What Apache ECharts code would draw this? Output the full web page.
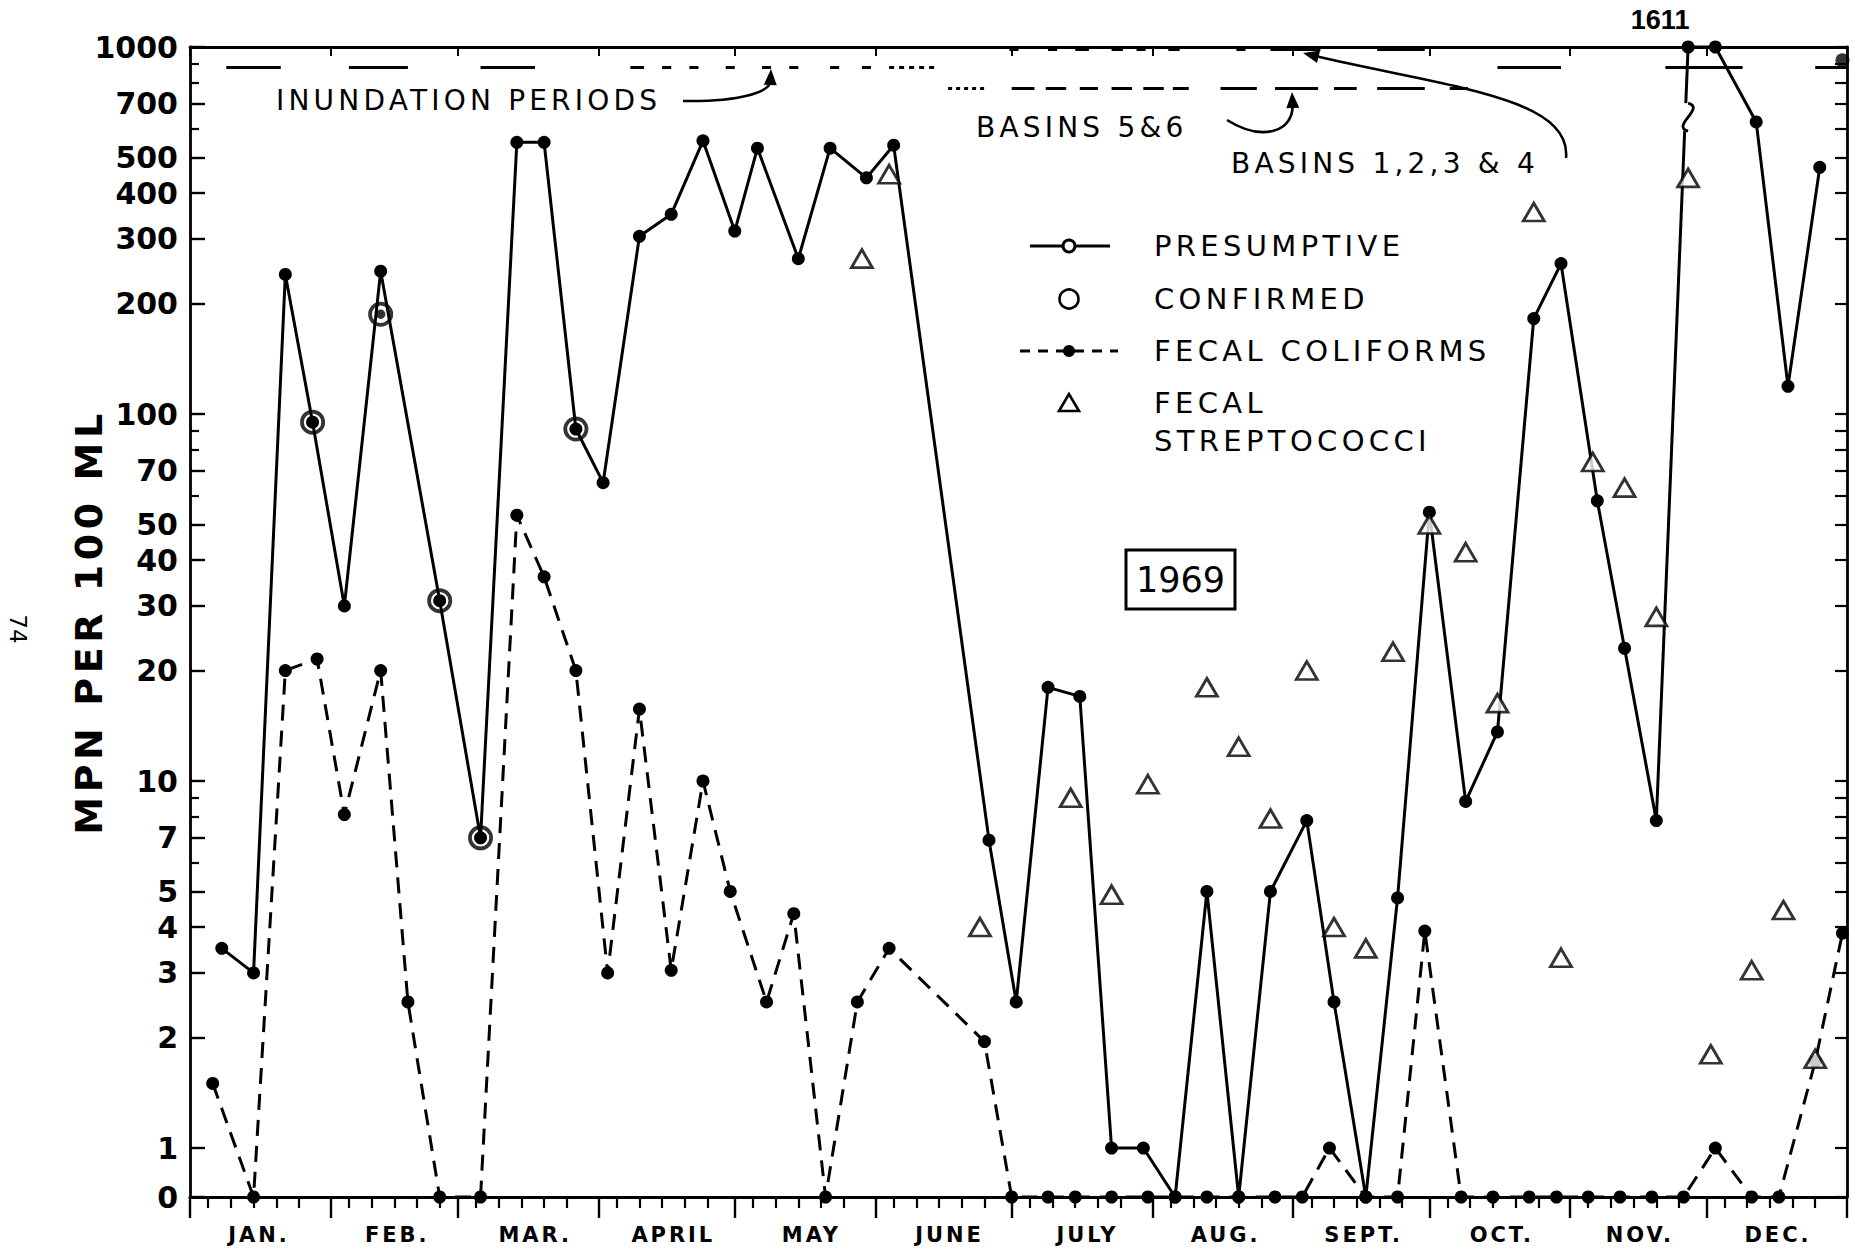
<!DOCTYPE html>
<html><head><meta charset="utf-8"><title>MPN per 100 ml, 1969</title>
<script src="https://cdn.jsdelivr.net/npm/echarts@6.0.0/dist/echarts.min.js"></script>
<style>html,body{margin:0;padding:0;background:#fff;}#chart{width:1862px;height:1251px;}</style>
</head><body><div id="chart"></div>
<script>
// ---------------- DATA ----------------
const MONTHS = ['JAN.','FEB.','MAR.','APRIL','MAY','JUNE','JULY','AUG.','SEPT.','OCT.','NOV.','DEC.'];
const MONTH_START_DAYS = [0,31,59,90,120,151,181,212,243,273,304,334,365];
const Y_LABEL_VALUES = [0,1,2,3,4,5,7,10,20,30,40,50,70,100,200,300,400,500,700,1000];
const Y_MINOR_VALUES = [6,8,9,60,80,90,600,800,900];

// day of year (Jan 1 = 0) and MPN per 100 ml
const PRESUMPTIVE_DAYS = [7,14,21,27,34,42,55,64,72,78,85,91,99,106,113,120,125,134,141,149,155,176,182,189,196,203,210,217,224,231,238,246,252,259,266,273,281,288,296,302,310,316,323,330,336,345,352,359];
const PRESUMPTIVE_MPN  = [3.5,3.0,240,95,30,245,31,7,550,550,91,65,305,350,555,315,530,265,530,440,540,6.9,2.5,18,17,1,1,0,5,0,5,7.8,2.5,0,4.8,54,8.8,13.6,182,257,58,23,7.8,1611,1000,625,119,470];
const PRESUMPTIVE_LATE_DAYS = [364];
const PRESUMPTIVE_LATE_MPN  = [920];

const CONFIRMED_DAYS = [27,42,55,64,85];
const CONFIRMED_MPN  = [95,187,31,7,91];

const FECAL_COLIFORM_DAYS = [5,14,21,28,34,42,48,55,64,72,78,85,92,99,106,113,119,127,133,140,147,154,175,181,189,195,203,211,217,224,231,239,245,251,259,266,272,280,287,295,301,308,315,322,329,336,344,350,358,364];
const FECAL_COLIFORM_MPN  = [1.5,0,20,21.5,8.1,20,2.5,0,0,53,36,20,3,15.7,3.05,10,5,2.5,4.35,0,2.5,3.5,1.95,0,0,0,0,0,0,0,0,0,0,1,0,0,3.9,0,0,0,0,0,0,0,0,1,0,0,1.72,3.85];

const FECAL_STREP_DAYS = [148,154,174,194,203,211,224,231,238,246,252,259,265,273,281,288,296,302,309,316,323,330,335,344,351,358];
const FECAL_STREP_MPN  = [265,450,4,9,4.9,9.8,18,12.4,7.9,20,4,3.5,22.5,50,42,16.3,355,3.3,74,63,28,440,1.8,3.05,4.45,1.75];

// inundation periods (day ranges) drawn along the top of the chart
const INUNDATION_LEVEL = 880;
const INUNDATION_PERIODS = [[8,20],[35,48],[64,76],[97,100],[104,106],[110,112],[118,120],[126,128],[132,134],[141,143],[148,150],[288,302],[325,342],[358,365]];
const INUNDATION_PERIODS_DOTTED = [[154,165]];
const BASINS_1234_LEVEL = 985;
const BASINS_1234_PERIODS = [[180.5,182.5],[189,191],[195,198],[203,205.5],[208.5,210.5],[215.5,218],[230.5,232.5],[238,249],[261.5,272]];
const BASINS_56_LEVEL = 771;
const BASINS_56_PERIODS = [[181,186],[188.5,193],[196,200],[203,207.5],[210,214.5],[216.5,220],[227,235],[239,248.5],[252,257],[261.5,272],[277.5,281.5]];
const BASINS_56_PERIODS_DOTTED = [[167,175]];

// ---------------- CHART ----------------
const ZERO_LOG = -0.1335;           // where the "0" row sits below 1 on the log scale
const toY = v => v > 0 ? Math.log10(Math.min(v, 1000)) : ZERO_LOG;
const INK = '#000';
const FONT = 'DejaVu Sans';

const MINOR_DAYS = [];
MONTH_START_DAYS.slice(0, 12).forEach(m => [4, 9, 14, 19, 24].forEach(k => MINOR_DAYS.push(m + k)));

const yLabelPos = Y_LABEL_VALUES.map(toY);
const yMinorPos = Y_MINOR_VALUES.map(toY);
const yLabelFmt = val => {
  for (let i = 0; i < Y_LABEL_VALUES.length; i++) if (Math.abs(yLabelPos[i] - val) < 1e-6) return String(Y_LABEL_VALUES[i]);
  return '';
};

const gridBox = {left: 190, right: 15, top: 47, bottom: 54};
const RING = 'path://M10,0 A10,10 0 1,1 -10,0 A10,10 0 1,1 10,0 Z M7.0,0 A7.0,7.0 0 1,0 -7.0,0 A7.0,7.0 0 1,0 7.0,0 Z M3.8,0 A3.8,3.8 0 1,1 -3.8,0 A3.8,3.8 0 1,1 3.8,0 Z';

const pts = (days, vals) => days.map((d, i) => ({value: [d, toY(vals[i])], raw: vals[i]}));
const segs = (ranges, lvl) => ranges.map(([a, b]) => ({coords: [[a, toY(lvl)], [b, toY(lvl)]]}));

const presData = pts(PRESUMPTIVE_DAYS, PRESUMPTIVE_MPN).map(it => {
  if (it.raw > 1000) it.label = {show: true, position: 'top', formatter: String(it.raw), offset: [-28, -2],
    fontFamily: 'Liberation Sans', fontWeight: 'bold', fontSize: 27, color: INK};
  return it;
});

const baseY = {type: 'value', min: ZERO_LOG, max: 3, splitLine: {show: false}};
const baseX = {type: 'value', min: 0, max: 365, splitLine: {show: false}};

const option = {
  animation: false,
  backgroundColor: '#fff',
  grid: [Object.assign({}, gridBox), Object.assign({}, gridBox), Object.assign({}, gridBox)],
  xAxis: [
    Object.assign({}, baseX, {gridIndex: 0, position: 'bottom',
      axisLine: {onZero: false, lineStyle: {color: INK, width: 2.8}},
      axisTick: {customValues: MONTH_START_DAYS, inside: false, length: 21, lineStyle: {color: INK, width: 2.4}},
      axisLabel: {show: false}}),
    Object.assign({}, baseX, {gridIndex: 0, position: 'top',
      axisLine: {onZero: false, lineStyle: {color: INK, width: 2.8}},
      axisTick: {customValues: MONTH_START_DAYS, inside: true, length: 9, lineStyle: {color: INK, width: 2}},
      axisLabel: {show: false}}),
    Object.assign({}, baseX, {gridIndex: 1, position: 'bottom',
      axisLine: {show: false, onZero: false},
      axisTick: {customValues: MINOR_DAYS, inside: false, length: 11, lineStyle: {color: INK, width: 2.2}},
      axisLabel: {show: false}}),
    {type: 'category', gridIndex: 2, data: MONTHS, position: 'bottom', boundaryGap: true,
      axisLine: {show: false, onZero: false}, axisTick: {show: false}, splitLine: {show: false},
      axisLabel: {interval: 0, margin: 27, color: INK, fontFamily: FONT, fontWeight: 'bold', fontSize: 21}}
  ],
  yAxis: [
    Object.assign({}, baseY, {gridIndex: 0, position: 'left',
      name: 'MPN PER 100 ML', nameLocation: 'middle', nameRotate: 90, nameGap: 82, nameMoveOverlap: false,
      nameTextStyle: {color: INK, fontFamily: FONT, fontWeight: 'bold', fontSize: 38},
      axisLine: {onZero: false, lineStyle: {color: INK, width: 2.8}},
      axisTick: {customValues: yLabelPos, inside: true, length: 15, lineStyle: {color: INK, width: 2.4}},
      axisLabel: {customValues: yLabelPos, formatter: yLabelFmt, margin: 12, color: INK, fontFamily: FONT, fontWeight: 'bold', fontSize: 30}}),
    Object.assign({}, baseY, {gridIndex: 0, position: 'right',
      axisLine: {onZero: false, lineStyle: {color: INK, width: 2.8}},
      axisTick: {customValues: yLabelPos.concat(yMinorPos), inside: true, length: 12, lineStyle: {color: INK, width: 2.2}},
      axisLabel: {show: false}}),
    Object.assign({}, baseY, {gridIndex: 1, position: 'left',
      axisLine: {show: false, onZero: false},
      axisTick: {customValues: yMinorPos, inside: true, length: 9, lineStyle: {color: INK, width: 2.2}},
      axisLabel: {show: false}}),
    Object.assign({}, baseY, {gridIndex: 2, show: false})
  ],
  series: [
    {name: 'PRESUMPTIVE', type: 'line', xAxisIndex: 0, yAxisIndex: 0, data: presData, clip: false,
      symbol: 'circle', symbolSize: 13, itemStyle: {color: INK}, lineStyle: {color: INK, width: 3}, z: 3},
    {name: 'PRESUMPTIVE (late)', type: 'scatter', xAxisIndex: 0, yAxisIndex: 0, clip: false,
      data: pts(PRESUMPTIVE_LATE_DAYS, PRESUMPTIVE_LATE_MPN), symbol: 'circle', symbolSize: 14, itemStyle: {color: INK}, z: 3},
    {name: 'CONFIRMED', type: 'scatter', xAxisIndex: 0, yAxisIndex: 0, clip: false,
      data: pts(CONFIRMED_DAYS, CONFIRMED_MPN), symbol: RING, symbolSize: 25, itemStyle: {color: INK}, z: 5},
    {name: 'FECAL COLIFORMS', type: 'line', xAxisIndex: 0, yAxisIndex: 0, clip: false,
      data: pts(FECAL_COLIFORM_DAYS, FECAL_COLIFORM_MPN), symbol: 'circle', symbolSize: 13,
      itemStyle: {color: INK}, lineStyle: {color: INK, width: 3, type: [16, 10]}, z: 3},
    {name: 'FECAL STREPTOCOCCI', type: 'scatter', xAxisIndex: 0, yAxisIndex: 0, clip: false,
      data: pts(FECAL_STREP_DAYS, FECAL_STREP_MPN), symbol: 'triangle', symbolSize: [21, 18],
      itemStyle: {color: '#fff', borderColor: INK, borderWidth: 2.8}, z: 6},
    {name: 'INUNDATION PERIODS', type: 'lines', coordinateSystem: 'cartesian2d', xAxisIndex: 0, yAxisIndex: 0, silent: true,
      data: segs(INUNDATION_PERIODS, INUNDATION_LEVEL), lineStyle: {color: INK, width: 3, opacity: 1}, z: 2},
    {name: 'INUNDATION PERIODS (partial)', type: 'lines', coordinateSystem: 'cartesian2d', xAxisIndex: 0, yAxisIndex: 0, silent: true,
      data: segs(INUNDATION_PERIODS_DOTTED, INUNDATION_LEVEL), lineStyle: {color: INK, width: 3, opacity: 1, type: [5, 5]}, z: 2},
    {name: 'BASINS 1,2,3 & 4', type: 'lines', coordinateSystem: 'cartesian2d', xAxisIndex: 0, yAxisIndex: 0, silent: true,
      data: segs(BASINS_1234_PERIODS, BASINS_1234_LEVEL), lineStyle: {color: INK, width: 3, opacity: 1}, z: 2},
    {name: 'BASINS 5 & 6', type: 'lines', coordinateSystem: 'cartesian2d', xAxisIndex: 0, yAxisIndex: 0, silent: true,
      data: segs(BASINS_56_PERIODS, BASINS_56_LEVEL), lineStyle: {color: INK, width: 3, opacity: 1}, z: 2},
    {name: 'BASINS 5 & 6 (partial)', type: 'lines', coordinateSystem: 'cartesian2d', xAxisIndex: 0, yAxisIndex: 0, silent: true,
      data: segs(BASINS_56_PERIODS_DOTTED, BASINS_56_LEVEL), lineStyle: {color: INK, width: 3, opacity: 1, type: [4, 4]}, z: 2}
  ]
};

const chart = echarts.init(document.getElementById('chart'), null, {renderer: 'svg', width: 1862, height: 1251});

// widen lettering like the original hand-lettered stencil text
const SPACING_EM = {'21': 0.14, '38': 0.12, '29': 0.15, '28': 0.15};
function applySpacing() {
  document.querySelectorAll('#chart svg text').forEach(t => {
    const fs = parseFloat(getComputedStyle(t).fontSize);
    const em = SPACING_EM[String(Math.round(fs))];
    if (em) t.setAttribute('letter-spacing', (em * fs).toFixed(2));
  });
}
chart.on('finished', applySpacing);
chart.setOption(option);

// ---------------- ANNOTATIONS ----------------
function txt(text, x, y, size, opts) {
  return Object.assign({type: 'text', x: x, y: y, z: 50,
    style: Object.assign({text: text, fill: INK, fontFamily: FONT, fontSize: size, fontWeight: 'normal', align: 'left', verticalAlign: 'middle'}, (opts || {}).style || {})},
    (opts || {}).el || {});
}
function arrow(p0, c1, c2, p1) {
  const dx = p1[0] - c2[0], dy = p1[1] - c2[1], L = Math.hypot(dx, dy) || 1;
  const ux = dx / L, uy = dy / L, px = -uy, py = ux, len = 16, w = 6.5;
  const bx = p1[0] - ux * len, by = p1[1] - uy * len;
  return [
    {type: 'bezierCurve', z: 50, shape: {x1: p0[0], y1: p0[1], cpx1: c1[0], cpy1: c1[1], cpx2: c2[0], cpy2: c2[1], x2: bx + ux * 4, y2: by + uy * 4},
      style: {stroke: INK, lineWidth: 2.6, fill: null}},
    {type: 'polygon', z: 50, shape: {points: [[p1[0], p1[1]], [bx + px * w, by + py * w], [bx - px * w, by - py * w]]}, style: {fill: INK}}
  ];
}

const brk = chart.convertToPixel({gridIndex: 0}, [PRESUMPTIVE_DAYS[PRESUMPTIVE_MPN.indexOf(1611)], toY(640)]);
const brkX = brk[0], brkY = brk[1];

const LX = 1069, TX = 1154;
const graphics = [
  // legend
  {type: 'line', z: 50, shape: {x1: 1030, y1: 246, x2: 1110, y2: 246}, style: {stroke: INK, lineWidth: 2.8}},
  {type: 'circle', z: 51, shape: {cx: LX, cy: 246, r: 6}, style: {fill: '#fff', stroke: INK, lineWidth: 3}},
  {type: 'circle', z: 50, shape: {cx: LX, cy: 299, r: 9.5}, style: {fill: '#fff', stroke: INK, lineWidth: 2.6}},
  {type: 'line', z: 50, shape: {x1: 1020, y1: 351, x2: 1118, y2: 351}, style: {stroke: INK, lineWidth: 2.8, lineDash: [10, 8]}},
  {type: 'circle', z: 51, shape: {cx: LX, cy: 351, r: 6}, style: {fill: INK}},
  {type: 'polygon', z: 50, shape: {points: [[LX, 394], [LX - 10, 411], [LX + 10, 411]]}, style: {fill: '#fff', stroke: INK, lineWidth: 2.6}},
  txt('PRESUMPTIVE', TX, 246, 29),
  txt('CONFIRMED', TX, 299, 29),
  txt('FECAL COLIFORMS', TX, 351, 29),
  txt('FECAL', TX, 403, 29),
  txt('STREPTOCOCCI', TX, 441, 29),
  // period labels
  txt('INUNDATION PERIODS', 276, 100, 28),
  txt('BASINS 5&6', 976, 127, 28),
  txt('BASINS 1,2,3 & 4', 1231, 163, 28),
  // year box
  {type: 'rect', z: 50, shape: {x: 1126, y: 550, width: 109, height: 59}, style: {fill: '#fff', stroke: INK, lineWidth: 3}},
  txt('1969', 1180.5, 580, 35, {style: {align: 'center'}}),
  // page number
  txt('74', 18, 629, 23, {style: {align: 'center'}, el: {rotation: -Math.PI / 2}}),
  // scale break on the 1611 line
  {type: 'rect', z: 60, shape: {x: brkX - 6, y: brkY - 15, width: 12, height: 28}, style: {fill: '#fff'}},
  {type: 'bezierCurve', z: 61, shape: {x1: brkX, y1: brkY - 15, cpx1: brkX + 18, cpy1: brkY - 10, cpx2: brkX - 18, cpy2: brkY + 8, x2: brkX, y2: brkY + 13},
    style: {stroke: INK, lineWidth: 2.8, fill: null}}
]
  .concat(arrow([683, 101], [740, 102], [770, 92], [771, 69]))
  .concat(arrow([1227, 120], [1262, 142], [1294, 132], [1292, 92]))
  .concat(arrow([1566, 158], [1572, 96], [1440, 86], [1303, 53]));

chart.setOption({graphic: graphics});
applySpacing();
setTimeout(applySpacing, 50);
setTimeout(applySpacing, 300);
</script>
</body></html>
